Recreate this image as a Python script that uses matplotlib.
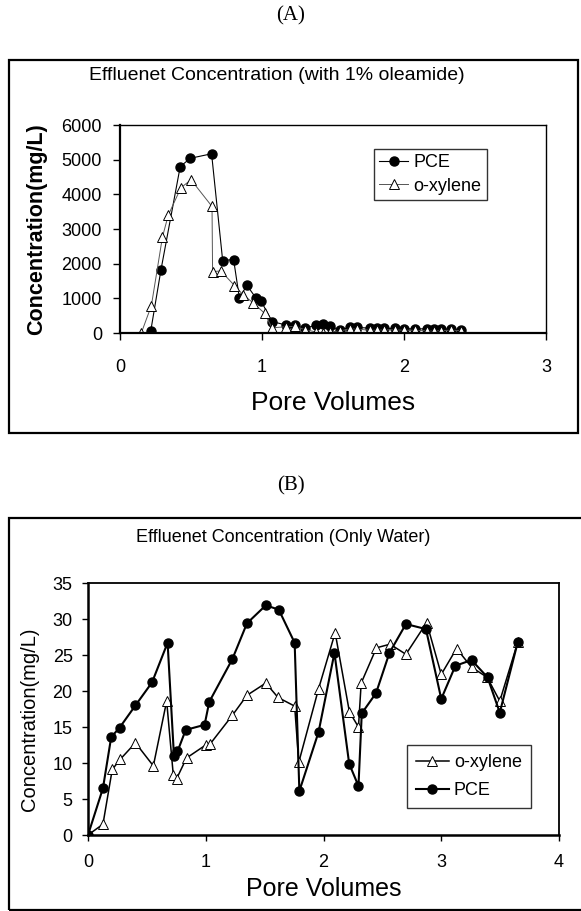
import matplotlib
matplotlib.use("Agg")
import matplotlib.pyplot as plt
from matplotlib.patches import Rectangle

plt.rcParams['font.family'] = ['Liberation Sans', 'DejaVu Sans']

# ---------------- Data: chart (A) ----------------
a_pce_x = [0.217, 0.288, 0.424, 0.495, 0.645, 0.723, 0.80, 0.841, 0.893, 0.959, 0.994,
           1.07, 1.17, 1.23, 1.30, 1.38, 1.43, 1.48, 1.55, 1.62, 1.67, 1.76, 1.81, 1.86,
           1.94, 2.00, 2.08, 2.16, 2.21, 2.26, 2.33, 2.40]
a_pce_y = [70, 1810, 4800, 5040, 5170, 2090, 2120, 1000, 1380, 1000, 920,
           330, 230, 230, 130, 230, 250, 190, 90, 160, 160, 140, 150, 130,
           130, 120, 120, 120, 110, 110, 110, 90]
a_xyl_x = [0.15, 0.221, 0.299, 0.34, 0.429, 0.50, 0.648, 0.652, 0.71, 0.806, 0.865, 0.94,
           1.018, 1.07, 1.17, 1.23, 1.30, 1.38, 1.43, 1.48, 1.55, 1.62, 1.67, 1.76, 1.81,
           1.86, 1.94, 2.00, 2.08, 2.16, 2.21, 2.26, 2.33, 2.40]
a_xyl_y = [0, 790, 2770, 3400, 4190, 4420, 3650, 1770, 1790, 1370, 1110, 860,
           570, 150, 180, 190, 100, 30, 0, 30, 60, 120, 110, 80, 80,
           90, 90, 80, 80, 60, 50, 70, 80, 70]
a_xticks = [0, 1, 2, 3]
a_yticks = [0, 1000, 2000, 3000, 4000, 5000, 6000]

# ---------------- Data: chart (B) ----------------
b_pce_x = [0, 0.127, 0.197, 0.268, 0.403, 0.544, 0.676, 0.73, 0.76, 0.83, 0.99, 1.03,
           1.225, 1.35, 1.51, 1.62, 1.755, 1.795, 1.958, 2.093, 2.218, 2.297, 2.325,
           2.446, 2.56, 2.70, 2.87, 3.0, 3.12, 3.257, 3.393, 3.497, 3.65]
b_pce_y = [0, 6.5, 13.6, 14.9, 18.0, 21.2, 26.7, 11.0, 11.6, 14.6, 15.3, 18.5,
           24.4, 29.4, 31.9, 31.3, 26.7, 6.1, 14.3, 25.3, 9.9, 6.8, 16.9,
           19.7, 25.3, 29.3, 28.6, 18.9, 23.5, 24.3, 21.9, 17.0, 26.8]
b_xyl_x = [0, 0.127, 0.206, 0.273, 0.403, 0.555, 0.668, 0.724, 0.752, 0.837, 1.0, 1.04,
           1.225, 1.35, 1.51, 1.614, 1.755, 1.79, 1.958, 2.099, 2.22, 2.297, 2.32,
           2.45, 2.565, 2.70, 2.876, 3.0, 3.13, 3.257, 3.39, 3.497, 3.65]
b_xyl_y = [0, 1.5, 9.1, 10.5, 12.8, 9.6, 18.6, 8.4, 7.8, 10.7, 12.5, 12.7,
           16.6, 19.4, 21.1, 19.1, 17.9, 10.1, 20.3, 28.1, 17.1, 15.0, 21.1,
           26.0, 26.5, 25.1, 29.5, 22.3, 25.9, 23.3, 21.9, 18.6, 26.8]
b_xticks = [0, 1, 2, 3, 4]
b_yticks = [0, 5, 10, 15, 20, 25, 30, 35]

W, H = 581, 911
fig = plt.figure(figsize=(W / 100, H / 100), dpi=100)
fig.patch.set_facecolor('white')


def fx(px):
    return px / W


def fy(py):
    return 1 - py / H


# outer boxes
fig.patches.append(Rectangle((fx(9), fy(433)), fx(578) - fx(9), fy(60) - fy(433),
                             transform=fig.transFigure, fill=False, lw=1.6, ec='black'))
fig.patches.append(Rectangle((fx(9), fy(910)), fx(585) - fx(9), fy(518) - fy(910),
                             transform=fig.transFigure, fill=False, lw=1.6, ec='black',
                             clip_on=False))

fig.text(fx(291), fy(16), '(A)', ha='center', va='center', fontsize=15,
         family=['Liberation Serif'])
fig.text(fx(291), fy(486), '(B)', ha='center', va='center', fontsize=15,
         family=['Liberation Serif'])

fig.text(fx(277), fy(76), 'Effluenet Concentration (with 1% oleamide)', ha='center',
         va='center', fontsize=14)
fig.text(fx(283), fy(538), 'Effluenet Concentration (Only Water)', ha='center',
         va='center', fontsize=13)

# ---------------- Axes A ----------------
axA = fig.add_axes([fx(120), fy(333), fx(546) - fx(120), fy(125) - fy(333)])
axA.plot(a_pce_x, a_pce_y, color='black', lw=0.8, marker='o', ms=6.5,
         mfc='black', mec='black', label='PCE')
axA.plot(a_xyl_x, a_xyl_y, color='#555555', lw=0.7, marker='^', ms=6.5,
         mfc='white', mec='black', mew=0.7, label='o-xylene')
axA.set_xlim(0, 3)
axA.set_ylim(0, 6000)
axA.set_xticks(a_xticks)
axA.set_yticks(a_yticks)
axA.tick_params(axis='both', labelsize=13, direction='out', length=5, width=1)
axA.tick_params(axis='x', pad=14)
axA.tick_params(axis='y', pad=8)
for s in axA.spines.values():
    s.set_linewidth(1.0)
axA.spines['left'].set_linewidth(1.6)
axA.spines['bottom'].set_linewidth(1.6)
axA.set_ylabel('Concentration(mg/L)', fontsize=15.5, fontweight='bold')
axA.yaxis.set_label_coords((47 - 120) / 426, 0.5)
axA.set_xlabel('Pore Volumes', fontsize=19)
axA.xaxis.set_label_coords(0.5, -(403 - 333) / 208)
axA.xaxis.label.set_va('center')
legA = axA.legend(loc='upper left', bbox_to_anchor=((374 - 120) / 426, (333 - 149) / 208),
                  fontsize=13, frameon=True, fancybox=False, edgecolor='black',
                  handlelength=1.6, handletextpad=0.3, borderpad=0.3, labelspacing=0.35,
                  borderaxespad=0)
legA.get_frame().set_linewidth(1.0)

# ---------------- Axes B ----------------
axB = fig.add_axes([fx(88), fy(835), fx(559) - fx(88), fy(583) - fy(835)])
axB.plot(b_xyl_x, b_xyl_y, color='black', lw=1.1, marker='^', ms=6.5,
         mfc='white', mec='black', mew=0.7, label='o-xylene')
axB.plot(b_pce_x, b_pce_y, color='black', lw=1.5, marker='o', ms=6.5,
         mfc='black', mec='black', label='PCE')
axB.set_xlim(0, 4)
axB.set_ylim(0, 35)
axB.set_xticks(b_xticks)
axB.set_yticks(b_yticks)
axB.tick_params(axis='both', labelsize=13, direction='out', length=4, width=1)
axB.tick_params(axis='x', pad=10)
axB.tick_params(axis='y', pad=7)
for s in axB.spines.values():
    s.set_linewidth(1.3)
axB.spines['left'].set_linewidth(1.8)
axB.spines['bottom'].set_linewidth(1.8)
axB.set_ylabel('Concentration(mg/L)', fontsize=14.5)
axB.yaxis.set_label_coords((39 - 88) / 471, (835 - 719) / 252)
axB.set_xlabel('Pore Volumes', fontsize=18)
axB.xaxis.set_label_coords(0.5, -(889 - 835) / 252)
axB.xaxis.label.set_va('center')
legB = axB.legend(loc='upper left', bbox_to_anchor=((407 - 88) / 471, (835 - 745) / 252),
                  fontsize=13, frameon=True, fancybox=False, edgecolor='black',
                  handlelength=1.8, handletextpad=0.3, borderpad=0.5, labelspacing=0.6,
                  borderaxespad=0)
legB.get_frame().set_linewidth(1.0)

fig.savefig('out.png', dpi=100, facecolor='white')
